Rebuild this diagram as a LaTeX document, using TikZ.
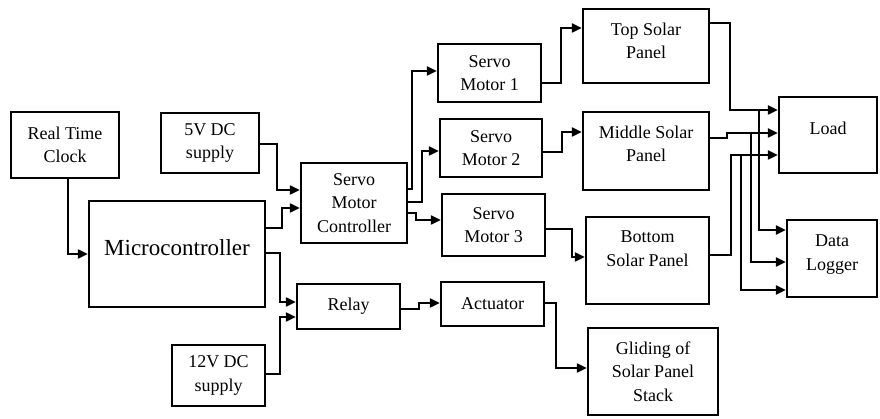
\documentclass[tikz,border=0pt]{standalone}
\usepackage{fontspec}
\setmainfont{Liberation Serif}
\usetikzlibrary{arrows.meta,calc}

\begin{document}
\begin{tikzpicture}[
    x=1pt,
    y=-1pt,
    font=\fontsize{18}{23.5}\selectfont,
    blk/.style={rectangle, draw=black, line width=2.4pt, fill=white, align=center, inner sep=2pt},
    lift/.style={text depth=#1},
    conn/.style={line width=2.2pt, -{Triangle[length=10pt,width=9pt]}}
  ]
    \useasboundingbox (0,0) rectangle (880,419);

    % blocks
    \node[blk, minimum width=108pt, minimum height=66pt] (rtc) at (65,145) {Real Time\\Clock};
    \node[blk, minimum width=98pt, minimum height=60pt] (dc5) at (210,143) {5V DC\\supply};
    \node[blk, minimum width=176pt, minimum height=106pt, lift=12pt, font=\fontsize{23}{28}\selectfont] (mcu) at (177,254) {Microcontroller};
    \node[blk, minimum width=93pt, minimum height=61pt] (dc12) at (218.5,375.5) {12V DC\\supply};
    \node[blk, minimum width=106pt, minimum height=80pt] (ctrl) at (354,203) {Servo\\Motor\\Controller};
    \node[blk, minimum width=103pt, minimum height=45pt] (relay) at (348.5,306.5) {Relay};
    \node[blk, minimum width=103pt, minimum height=58pt] (sm1) at (489.5,73) {Servo\\Motor 1};
    \node[blk, minimum width=102pt, minimum height=58pt] (sm2) at (491,148) {Servo\\Motor 2};
    \node[blk, minimum width=103pt, minimum height=62pt] (sm3) at (493.5,225) {Servo\\Motor 3};
    \node[blk, minimum width=103pt, minimum height=44pt] (act) at (492.5,304) {Actuator};
    \node[blk, minimum width=126pt, minimum height=74pt, lift=10pt] (top) at (646,46) {Top Solar\\Panel};
    \node[blk, minimum width=126pt, minimum height=78pt, lift=14pt] (mid) at (646,151) {Middle Solar\\Panel};
    \node[blk, minimum width=123pt, minimum height=87pt, lift=24pt] (bot) at (647.5,260.5) {Bottom\\Solar Panel};
    \node[blk, minimum width=130pt, minimum height=87pt] (glide) at (653,371.5) {Gliding of\\Solar Panel\\Stack};
    \node[blk, minimum width=98pt, minimum height=76pt, lift=14pt] (load) at (828,135) {Load};
    \node[blk, minimum width=90pt, minimum height=77pt, lift=12pt] (logger) at (832,258.5) {Data\\Logger};

    % controller side
    \draw[conn] ($(rtc.south)+(3,0)$) |- (mcu.west);
    \draw[conn] ($(dc5.east)+(0,1)$) -| ($(ctrl.west)+(-23,-13)$) -- ($(ctrl.west)+(0,-13)$);
    \draw[conn] ($(mcu.east)+(0,-26)$) -| ($(ctrl.west)+(-18,5)$) -- ($(ctrl.west)+(0,5)$);
    \draw[conn] ($(mcu.east)+(0,-1)$) -| ($(relay.west)+(-16,-4.5)$) -- ($(relay.west)+(0,-4.5)$);
    \draw[conn] ($(dc12.east)+(0,-1.5)$) -| ($(relay.west)+(-16,10.5)$) -- ($(relay.west)+(0,10.5)$);
    \draw[conn] ($(relay.east)+(0,2.5)$) -| ($(act.west)+(-21,-1)$) -- ($(act.west)+(0,-1)$);
    \draw[conn] ($(act.east)+(0,-1)$) -| ($(glide.west)+(-31,-3.5)$) -- ($(glide.west)+(0,-3.5)$);

    % servos and panels
    \draw[conn] ($(ctrl.east)+(0,-14)$) -| ($(sm1.west)+(-25,-2)$) -- ($(sm1.west)+(0,-2)$);
    \draw[conn] ($(ctrl.east)+(0,-1)$) -| ($(sm2.west)+(-17,3)$) -- ($(sm2.west)+(0,3)$);
    \draw[conn] ($(ctrl.east)+(0,10)$) -| ($(sm3.west)+(-25,-5)$) -- ($(sm3.west)+(0,-5)$);
    \draw[conn] ($(sm1.east)+(0,10)$) -| ($(top.west)+(-21,-18)$) -- ($(top.west)+(0,-18)$);
    \draw[conn] ($(sm2.east)+(0,4)$) -| ($(mid.west)+(-20,-19)$) -- ($(mid.west)+(0,-19)$);
    \draw[conn] ($(sm3.east)+(0,4)$) -| ($(bot.west)+(-13,-3.5)$) -- ($(bot.west)+(0,-3.5)$);

    % outputs
    \draw[conn] ($(top.east)+(0,-23)$) -| ($(load.west)+(-48,-25)$) -- ($(load.west)+(0,-25)$);
    \draw[conn] ($(load.west)+(-19,-25)$) |- ($(logger.west)+(0,-28.5)$);
    \draw[conn] ($(mid.east)+(0,-13)$) -| ($(load.west)+(-51,-2)$) -- ($(load.west)+(0,-2)$);
    \draw[conn] ($(load.west)+(-27,-2)$) |- ($(logger.west)+(0,3.5)$);
    \draw[conn] ($(bot.east)+(0,-5.5)$) -| ($(load.west)+(-47,20)$) -- ($(load.west)+(0,20)$);
    \draw[conn] ($(load.west)+(-37,20)$) |- ($(logger.west)+(0,31.5)$);
  \end{tikzpicture}
\end{document}
